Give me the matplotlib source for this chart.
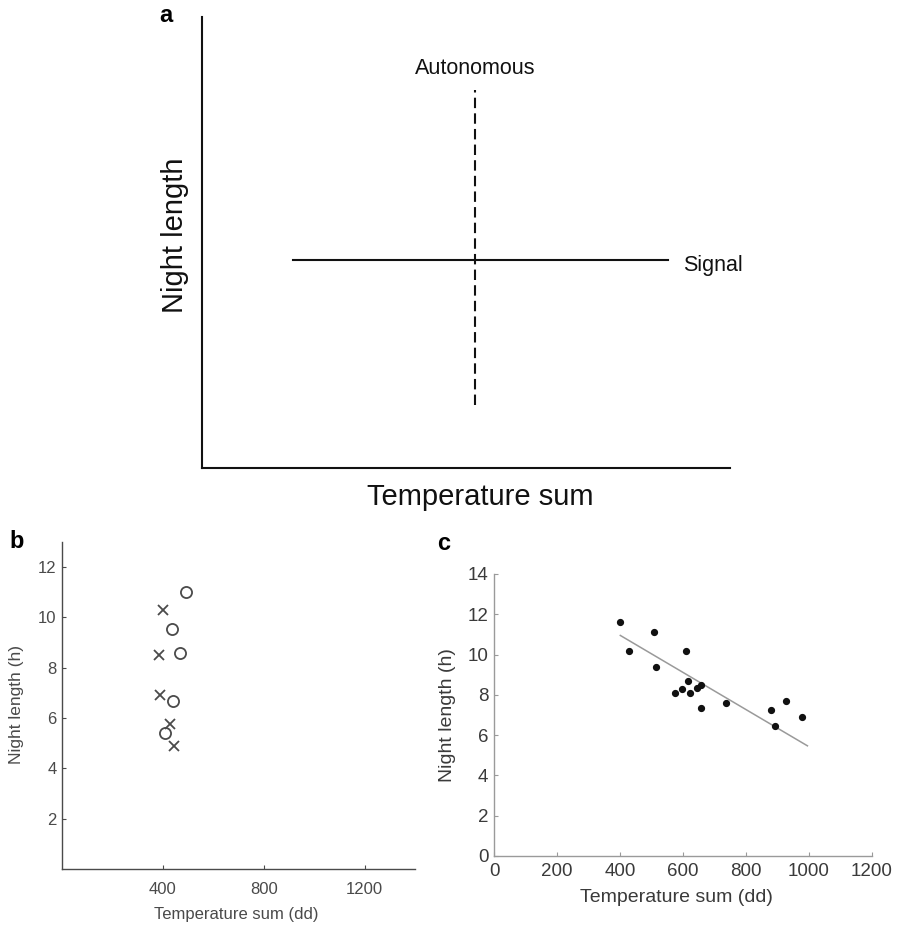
import matplotlib
matplotlib.use("Agg")
import matplotlib.pyplot as plt

plt.rcParams['font.family'] = ['Liberation Sans', 'DejaVu Sans']

# ---- Panel a (conceptual diagram, axes fraction units) ----
signal_x = [0.172, 0.883]
signal_y = [0.461, 0.461]
auto_x = [0.517, 0.517]
auto_y = [0.140, 0.838]

# ---- Panel b data ----
b_circle_x = [490, 436, 469, 440, 407]
b_circle_y = [11.0, 9.55, 8.57, 6.69, 5.40]
b_cross_x = [400, 385, 388, 428, 444]
b_cross_y = [10.31, 8.49, 6.92, 5.78, 4.90]
b_xticks = [400, 800, 1200]
b_yticks = [2, 4, 6, 8, 10, 12]

# ---- Panel c data ----
c_x = [399, 429, 507, 515, 608, 575, 597, 616, 621, 646, 656, 656, 737, 878, 891, 926, 978]
c_y = [11.6, 10.18, 11.12, 9.37, 10.18, 8.08, 8.28, 8.67, 8.07, 8.35, 8.47, 7.33, 7.6, 7.27, 6.47, 7.68, 6.88]
c_fit_x = [401, 995]
c_fit_y = [10.95, 5.47]
c_xticks = [0, 200, 400, 600, 800, 1000, 1200]
c_yticks = [0, 2, 4, 6, 8, 10, 12, 14]

W, H = 899, 925
fig = plt.figure(figsize=(W / 100, H / 100), dpi=100)

def fx(px):
    return px / W

def fy(py):
    return 1 - py / H

# Panel a
axa = fig.add_axes([fx(202), fy(468), fx(730) - fx(202), fy(17) - fy(468)])
axa.set_xlim(0, 1)
axa.set_ylim(0, 1)
for s in ['top', 'right']:
    axa.spines[s].set_visible(False)
for s in ['left', 'bottom']:
    axa.spines[s].set_linewidth(1.5)
    axa.spines[s].set_color('#111111')
axa.set_xticks([])
axa.set_yticks([])
axa.plot(signal_x, signal_y, color='#111111', lw=1.5)
axa.plot(auto_x, auto_y, color='#111111', lw=1.5, dashes=(5, 2.5))
fig.text(fx(475), fy(68), 'Autonomous', fontsize=15.5, ha='center', va='center', color='#111111')
fig.text(fx(683), fy(266), 'Signal', fontsize=15.5, ha='left', va='center', color='#111111')
fig.text(fx(175), fy(235), 'Night length', fontsize=21, rotation=90, ha='center', va='center', color='#111111')
fig.text(fx(480), fy(497), 'Temperature sum', fontsize=21, ha='center', va='center', color='#111111')
fig.text(fx(166), fy(16), 'a', fontsize=17, fontweight='bold', ha='center', va='center')

# Panel b
bcol = '#4a4a4a'
axb = fig.add_axes([fx(62), fy(869), fx(415) - fx(62), fy(542) - fy(869)])
axb.set_xlim(0, 1400)
axb.set_ylim(0, 13)
for s in ['top', 'right']:
    axb.spines[s].set_visible(False)
for s in ['left', 'bottom']:
    axb.spines[s].set_color(bcol)
    axb.spines[s].set_linewidth(1.0)
axb.set_xticks(b_xticks)
axb.set_yticks(b_yticks)
axb.tick_params(axis='both', direction='in', length=3, width=0.8, colors=bcol, labelsize=12)
axb.tick_params(axis='x', pad=9)
axb.tick_params(axis='y', pad=4)
axb.plot(b_circle_x, b_circle_y, linestyle='none', marker='o', ms=8, mfc='none', mec=bcol, mew=1.3)
axb.plot(b_cross_x, b_cross_y, linestyle='none', marker='x', ms=7, mec=bcol, mew=1.3)
fig.text(fx(236), fy(915), 'Temperature sum (dd)', fontsize=12, ha='center', va='center', color=bcol)
fig.text(fx(17), fy(704), 'Night length (h)', fontsize=12.5, rotation=90, ha='center', va='center', color=bcol)
fig.text(fx(17), fy(542), 'b', fontsize=17, fontweight='bold', ha='center', va='center')

# Panel c
ccol = '#3a3a3a'
axc = fig.add_axes([fx(494), fy(856), fx(872) - fx(494), fy(574) - fy(856)])
axc.set_xlim(0, 1200)
axc.set_ylim(0, 14)
for s in ['top', 'right']:
    axc.spines[s].set_visible(False)
for s in ['left', 'bottom']:
    axc.spines[s].set_color('#9a9a9a')
    axc.spines[s].set_linewidth(1.0)
axc.set_xticks(c_xticks)
axc.set_yticks(c_yticks)
axc.tick_params(axis='both', direction='in', length=3, width=0.8, color='#9a9a9a', labelcolor=ccol, labelsize=13.5)
axc.tick_params(axis='x', pad=5)
axc.tick_params(axis='y', pad=4)
axc.plot(c_fit_x, c_fit_y, color='#9a9a9a', lw=1.1)
axc.plot(c_x, c_y, linestyle='none', marker='o', ms=4.2, color='#111111')
fig.text(fx(676), fy(898), 'Temperature sum (dd)', fontsize=14, ha='center', va='center', color=ccol)
fig.text(fx(447), fy(715), 'Night length (h)', fontsize=14, rotation=90, ha='center', va='center', color=ccol)
fig.text(fx(444), fy(544), 'c', fontsize=17, fontweight='bold', ha='center', va='center')

fig.savefig('out.png', dpi=100, facecolor='white')
